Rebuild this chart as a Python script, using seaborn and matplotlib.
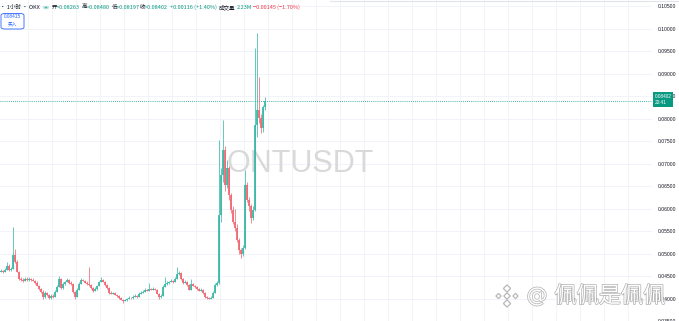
import numpy as np
import pandas as pd
import matplotlib
matplotlib.use("Agg")
import matplotlib.pyplot as plt
import seaborn as sns
from matplotlib import patheffects as pe
from matplotlib.patches import Polygon, FancyBboxPatch

# ---------------- data (1h candles, ONT/USDT) ----------------
closes = [
    0.04622, 0.04600, 0.04644, 0.04733, 0.04644, 0.04667, 0.04978, 0.04822, 0.04600, 0.04444,
    0.04422, 0.04400, 0.04444, 0.04422, 0.04444, 0.04422, 0.04400, 0.04356, 0.04289, 0.04222,
    0.04156, 0.04044, 0.04133, 0.04089, 0.04022, 0.04067, 0.04044, 0.04156, 0.04267, 0.04444,
    0.04244, 0.04333, 0.04378, 0.04422, 0.04356, 0.04333, 0.04156, 0.04044, 0.04200, 0.04333,
    0.04422, 0.04400, 0.04356, 0.04333, 0.04311, 0.04244, 0.04178, 0.04222, 0.04289, 0.04378,
    0.04422, 0.04378, 0.04311, 0.04244, 0.04133, 0.04111, 0.04122, 0.04089, 0.04067, 0.04022,
    0.03978, 0.03956, 0.03967, 0.04000, 0.04022, 0.04011, 0.04044, 0.04067, 0.04044, 0.04111,
    0.04133, 0.04156, 0.04200, 0.04178, 0.04222, 0.04200, 0.04222, 0.04200, 0.04111, 0.04044,
    0.04067, 0.04267, 0.04333, 0.04356, 0.04378, 0.04400, 0.04378, 0.04444, 0.04556, 0.04578,
    0.04444, 0.04356, 0.04378, 0.04311, 0.04200, 0.04333, 0.04289, 0.04267, 0.04222, 0.04178,
    0.04200, 0.04133, 0.04044, 0.04022, 0.04000, 0.04022, 0.04133, 0.04311, 0.04356, 0.05867,
    0.06756, 0.07311, 0.06533, 0.06911, 0.06311, 0.05978, 0.05711, 0.05578, 0.05311, 0.05089,
    0.05000, 0.05133, 0.06533, 0.06200, 0.06067, 0.05800, 0.05978, 0.07867, 0.08200, 0.08022,
    0.07800, 0.08263, 0.08402,
]
opens = [0.04600] + closes[:-1]
highs = [
    0.04650, 0.04640, 0.04670, 0.04822, 0.04760, 0.04700, 0.05600, 0.05110, 0.04850, 0.04620,
    0.04470, 0.04450, 0.04480, 0.04470, 0.04480, 0.04460, 0.04450, 0.04420, 0.04380, 0.04310,
    0.04240, 0.04180, 0.04160, 0.04150, 0.04110, 0.04090, 0.04090, 0.04180, 0.04300, 0.04511,
    0.04460, 0.04360, 0.04400, 0.04450, 0.04440, 0.04380, 0.04350, 0.04170, 0.04230, 0.04360,
    0.04460, 0.04440, 0.04420, 0.04380, 0.04711, 0.04330, 0.04260, 0.04250, 0.04310, 0.04400,
    0.04480, 0.04440, 0.04390, 0.04330, 0.04260, 0.04160, 0.04140, 0.04140, 0.04100, 0.04080,
    0.04040, 0.03990, 0.04000, 0.04020, 0.04050, 0.04040, 0.04070, 0.04090, 0.04080, 0.04140,
    0.04160, 0.04180, 0.04230, 0.04220, 0.04356, 0.04240, 0.04250, 0.04240, 0.04210, 0.04120,
    0.04090, 0.04300, 0.04489, 0.04390, 0.04400, 0.04430, 0.04420, 0.04470, 0.04711, 0.04620,
    0.04600, 0.04460, 0.04410, 0.04390, 0.04330, 0.04444, 0.04350, 0.04310, 0.04280, 0.04240,
    0.04230, 0.04210, 0.04140, 0.04060, 0.04040, 0.04050, 0.04160, 0.04340, 0.04400, 0.07533,
    0.06900, 0.07978, 0.07400, 0.07089, 0.06950, 0.06350, 0.06050, 0.06000, 0.05650, 0.05350,
    0.05120, 0.05200, 0.06867, 0.06600, 0.06250, 0.06100, 0.06050, 0.09578, 0.09911, 0.08933,
    0.08100, 0.08300, 0.08480,
]
lows = [
    0.04580, 0.04570, 0.04590, 0.04630, 0.04620, 0.04620, 0.04650, 0.04800, 0.04580, 0.04420,
    0.04400, 0.04370, 0.04380, 0.04400, 0.04400, 0.04390, 0.04380, 0.04330, 0.04270, 0.04200,
    0.04130, 0.03980, 0.04020, 0.04060, 0.04000, 0.04000, 0.04020, 0.04030, 0.04140, 0.04250,
    0.04220, 0.04220, 0.04310, 0.04360, 0.04330, 0.04310, 0.04130, 0.04000, 0.04030, 0.04190,
    0.04320, 0.04380, 0.04340, 0.04310, 0.04290, 0.04220, 0.04150, 0.04160, 0.04200, 0.04270,
    0.04360, 0.04360, 0.04290, 0.04220, 0.04110, 0.04090, 0.04090, 0.04070, 0.04040, 0.04000,
    0.03960, 0.03910, 0.03940, 0.03950, 0.03990, 0.03990, 0.04000, 0.04030, 0.04020, 0.04030,
    0.04100, 0.04120, 0.04140, 0.04160, 0.04160, 0.04180, 0.04190, 0.04180, 0.04090, 0.04000,
    0.04020, 0.04050, 0.04250, 0.04310, 0.04330, 0.04360, 0.04350, 0.04360, 0.04430, 0.04530,
    0.04420, 0.04330, 0.04340, 0.04290, 0.04180, 0.04190, 0.04270, 0.04240, 0.04200, 0.04160,
    0.04160, 0.04110, 0.04020, 0.04000, 0.03980, 0.03990, 0.04010, 0.04120, 0.04290, 0.04330,
    0.05700, 0.06600, 0.06400, 0.06450, 0.06200, 0.05900, 0.05650, 0.05500, 0.05250, 0.05000,
    0.04911, 0.04950, 0.05100, 0.06150, 0.05950, 0.05689, 0.05750, 0.05950, 0.07600, 0.07900,
    0.07689, 0.07700, 0.08197,
]
price_ticks = [0.035, 0.040, 0.045, 0.050, 0.055, 0.060, 0.065, 0.070,
               0.075, 0.080, 0.085, 0.090, 0.095, 0.100, 0.105]
last_price = 0.08402
last_time = "20:41"
buy_price = "0.08415"
symbol_watermark = "ONTUSDT"
header_parts = [
    ("· 1小时 · OKX", "#131722"),
    ("开", "#131722"), ("=0.08263", "#089981"),
    ("高", "#131722"), ("=0.08480", "#089981"),
    ("低", "#131722"), ("=0.08197", "#089981"),
    ("收", "#131722"), ("=0.08402", "#089981"),
    ("+0.00116 (+1.40%)", "#089981"),
    ("成交量", "#131722"), ("2.23M", "#089981"),
    ("−0.00145 (−1.70%)", "#f23645"),
]
header_x = [0, 52, 57, 82, 87, 112, 117, 140, 145, 170, 219, 237, 253]

# ---------------- style ----------------
sns.set_theme(style="white")
plt.rcParams['font.family'] = ['Noto Sans CJK SC', 'DejaVu Sans']

df = pd.DataFrame({"open": opens, "high": highs, "low": lows, "close": closes})
df["idx"] = np.arange(len(df))
df["up"] = df["close"] >= df["open"]
UP, DOWN = "#3cb8a6", "#f06873"

W, H = 679, 321
fig = plt.figure(figsize=(W / 100, H / 100), dpi=100)
ax_right_px = 652
ax = fig.add_axes([0, 0, ax_right_px / W, 1])

ylo = 0.106444 - 0.00022222 * H
ax.set_ylim(ylo, 0.106444)
ax.set_xlim(-0.5, ax_right_px / 2 - 0.5)

# grid
for t in price_ticks:
    ax.axhline(t, color="#f0f3fa", lw=0.7, zorder=0)
for gx in np.arange(13.5, ax_right_px / 2, 12):
    ax.axvline(gx, color="#f2f4f9", lw=0.7, zorder=0)

# candles
colors = np.where(df["up"], UP, DOWN)
ax.vlines(df["idx"], df["low"], df["high"], colors=colors, lw=0.6, zorder=2, alpha=0.9)
body_lo = np.minimum(df["open"], df["close"])
body_h = np.maximum(np.abs(df["close"] - df["open"]), 0.00006)
ax.bar(df["idx"], body_h, bottom=body_lo, width=0.6, color=colors, lw=0, zorder=3, alpha=0.9)

# current price dotted line
sns.lineplot(x=[-0.5, ax_right_px / 2], y=[last_price, last_price], ax=ax,
             color="#089981", lw=0.6, linestyle=(0, (1, 1.5)), zorder=1)

# axis styling
for s in ax.spines.values():
    s.set_visible(False)
ax.set_xticks([])
ax.yaxis.tick_right()
ax.set_yticks(price_ticks)
ax.set_yticklabels([f"{t:.5f}" for t in price_ticks], fontsize=3.6,
                   color="#131722", family="Liberation Sans")
ax.tick_params(axis="y", length=0, pad=4)
ax.set_xlabel("")
ax.set_ylabel("")
ax.set_facecolor("white")
fig.patch.set_facecolor("white")

# last price tag
ax.text(1.004, last_price + 0.0003, f"{last_price:.5f}\n{last_time}",
        transform=ax.get_yaxis_transform(), ha="left", va="center",
        fontsize=3.4, color="white", family="Liberation Sans", linespacing=1.3,
        bbox=dict(boxstyle="square,pad=0.35", fc="#089981", ec="none"), zorder=10,
        clip_on=False)

# header
hy = 1 - 7.5 / H
for (txt, col), px in zip(header_parts, header_x):
    fig.text(px / W, hy, txt, fontsize=4.0, color=col, ha="left", va="center")
fig.patches.append(matplotlib.patches.Circle((46 / W, hy), 2.2 / W, transform=fig.transFigure,
                                             fc="#089981", ec="#b2dfdb", lw=1.0))

# buy box
fig.patches.append(FancyBboxPatch((1 / W, 1 - 29 / H), 23 / W, 15.5 / H,
                                  boxstyle="round,pad=0,rounding_size=0.006",
                                  transform=fig.transFigure, fc="white", ec="#2962ff", lw=0.6))
fig.text(12.5 / W, 1 - 17 / H, buy_price, fontsize=3.4, color="#2962ff", ha="center", va="center",
         family="Liberation Sans")
fig.text(12.5 / W, 1 - 24.5 / H, "买入", fontsize=3.4, color="#2962ff", ha="center", va="center")

# top separator line on right
fig.add_artist(matplotlib.lines.Line2D([330 / W, 1], [1 - 0.5 / H, 1 - 0.5 / H],
                                       color="#e0e3eb", lw=0.8, transform=fig.transFigure))

# symbol watermark
ax.text(0.46, 1 - 164 / H, symbol_watermark, transform=ax.transAxes, fontsize=22,
        color="#d9d9d9", ha="center", va="center", family="Liberation Sans", zorder=1)

# bottom-right author watermark
outline = [pe.withStroke(linewidth=1.0, foreground="#b0b0b0")]
fig.text(537 / W, 1 - 296 / H, "@", fontsize=15, color="white", ha="center", va="center",
         family="DejaVu Sans", path_effects=outline, zorder=20)
fig.text(610 / W, 1 - 296 / H, "佩佩是佩佩", fontsize=16, color="white", ha="center", va="center",
         path_effects=outline, zorder=20)
cx, cy = 507, 296
def diamond(x0, y0, r):
    return Polygon([((x0) / W, 1 - (y0 - r) / H), ((x0 + r) / W, 1 - y0 / H),
                    (x0 / W, 1 - (y0 + r) / H), ((x0 - r) / W, 1 - y0 / H)],
                   closed=True, transform=fig.transFigure, fc="white", ec="#b8b8b8", lw=0.9, zorder=20)
for dx, dy, r in [(0, 0, 3.2), (0, -7.5, 3.6), (0, 7.5, 3.6), (-8.5, 0, 2.6), (8.5, 0, 2.6)]:
    fig.patches.append(diamond(cx + dx, cy + dy, r))

fig.savefig("out.png", dpi=100, facecolor="white")
